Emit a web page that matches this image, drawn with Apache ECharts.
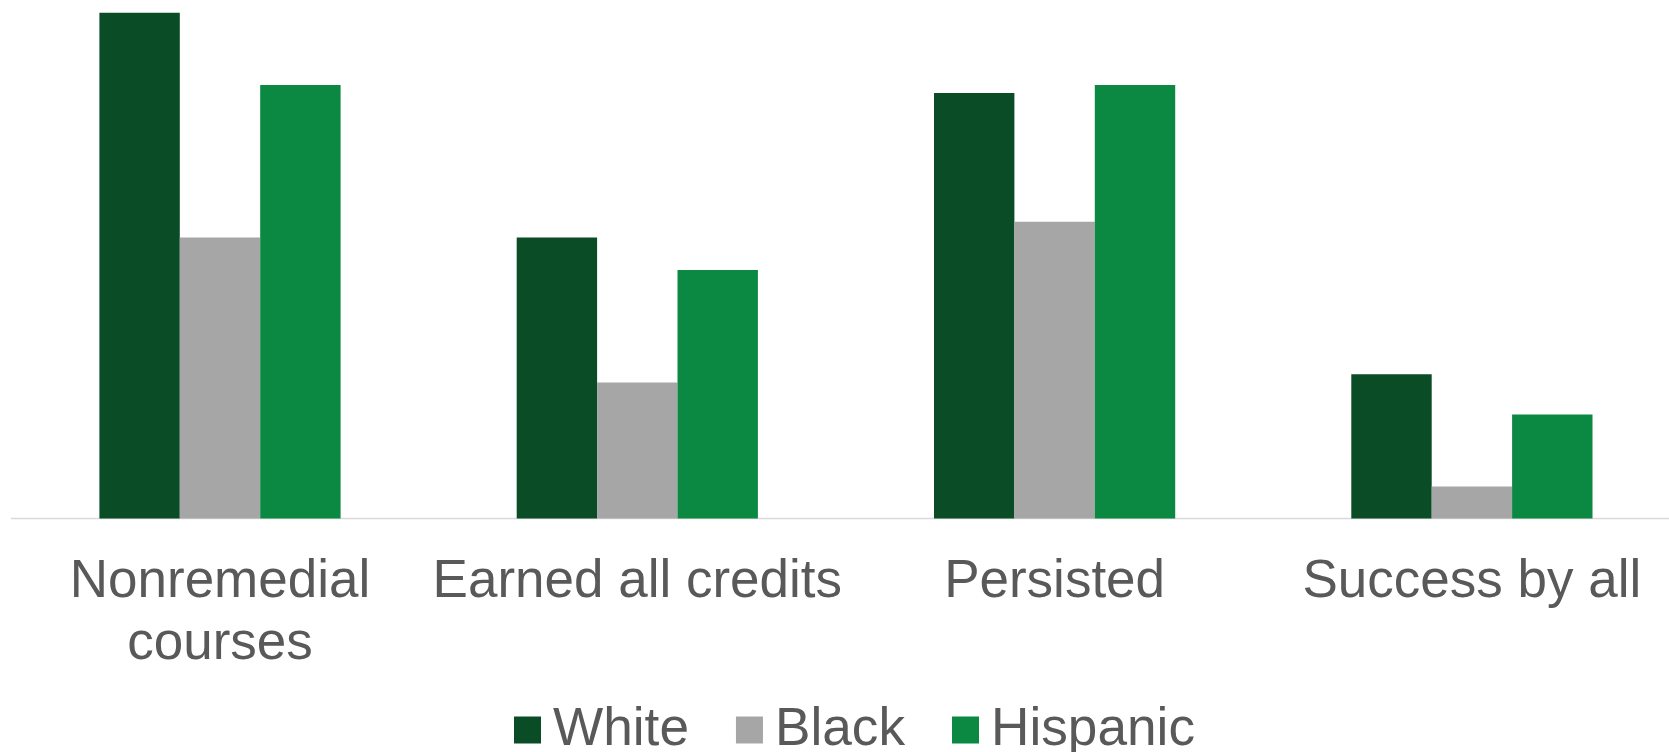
<!DOCTYPE html>
<html>
<head>
<meta charset="utf-8">
<script src="https://cdn.jsdelivr.net/npm/echarts@6/dist/echarts.min.js"></script>
<style>
  html, body { margin: 0; padding: 0; background: #ffffff; }
  #chart { width: 1669px; height: 752px; }
</style>
</head>
<body>
<div id="chart"></div>
<script>
const categories = ['Nonremedial\ncourses', 'Earned all credits', 'Persisted', 'Success by all'];
const seriesNames = ['White', 'Black', 'Hispanic'];
const whiteValues = [68.0, 37.8, 57.2, 19.4];
const blackValues = [37.8, 18.3, 39.9, 4.3];
const hispanicValues = [58.3, 33.4, 58.3, 14.0];

const colors = ['#094c26', '#a6a6a6', '#0b8842'];
const chart = echarts.init(document.getElementById('chart'), null, { renderer: 'canvas' });
const font = '"Liberation Sans", Arial, sans-serif';

chart.setOption({
  animation: false,
  backgroundColor: '#ffffff',
  grid: { left: 11.35, width: 1669.2, top: 12.8, bottom: 233.5, containLabel: false, outerBoundsMode: 'none' },
  legend: {
    data: seriesNames,
    left: 509,
    top: 698,
    icon: 'rect',
    itemWidth: 27,
    itemHeight: 27,
    itemGap: 47,
    textStyle: { fontFamily: font, fontSize: 53.2, color: '#595959', lineHeight: 54, padding: [0, 0, 0, 7] }
  },
  xAxis: {
    type: 'category',
    data: categories,
    axisLine: { show: true, lineStyle: { color: '#d9d9d9', width: 1.3 } },
    axisTick: { show: false },
    axisLabel: {
      interval: 0,
      margin: 32.5,
      fontFamily: font,
      fontSize: 53,
      lineHeight: 62,
      color: '#595959',
      verticalAlign: 'top',
      hideOverlap: false
    },
    splitLine: { show: false }
  },
  yAxis: {
    type: 'value',
    min: 0,
    max: 68,
    show: false,
    splitLine: { show: false }
  },
  series: [
    { name: seriesNames[0], type: 'bar', data: whiteValues, barWidth: 80.4, barGap: '0%', itemStyle: { color: colors[0] } },
    { name: seriesNames[1], type: 'bar', data: blackValues, barWidth: 80.4, barGap: '0%', itemStyle: { color: colors[1] } },
    { name: seriesNames[2], type: 'bar', data: hispanicValues, barWidth: 80.4, barGap: '0%', itemStyle: { color: colors[2] } }
  ]
});
</script>
</body>
</html>
